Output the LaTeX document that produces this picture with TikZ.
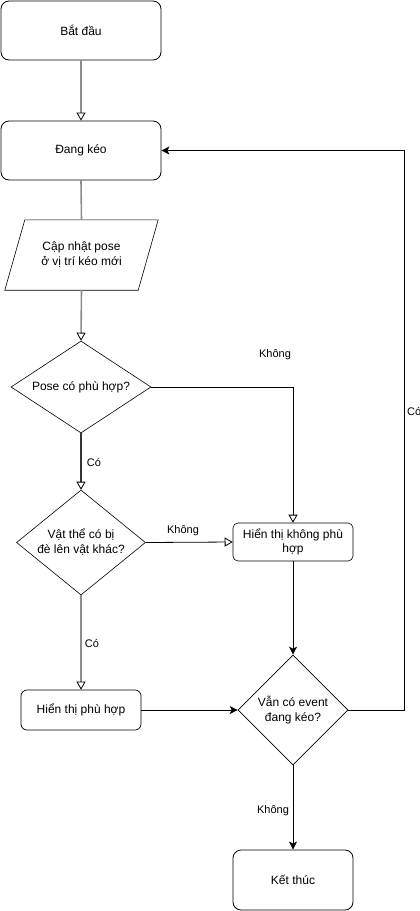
\documentclass[tikz,border=0pt]{standalone}
\usepackage{fontspec}
\setmainfont{Liberation Sans}
\usetikzlibrary{shapes.geometric,arrows.meta}
\begin{document}
\begin{tikzpicture}[x=1pt,y=-1pt,
  every node/.style={font=\fontsize{12}{14}\selectfont},
  boxnode/.style={draw=black,line width=0.8pt,rounded corners=8pt,align=center,inner sep=0pt},
  diam/.style={draw=black,line width=0.6pt,shape=diamond,inner sep=0pt},
  lbl/.style={font=\fontsize{11}{13}\selectfont,inner sep=0pt},
  grayline/.style={draw=black!45,line width=1.6pt},
  darkline/.style={draw=black!80,line width=1.4pt},
  thinline/.style={draw=black,line width=0.8pt},
  opentip/.style={-{Triangle[open,length=8pt,width=9pt,line width=0.8pt,color=black]}},
  filltip/.style={-{Stealth[length=8pt,width=8pt,inset=2pt]}}
]
\useasboundingbox (0,0) rectangle (420,911);
\node[boxnode,minimum width=160pt,minimum height=59pt] (start) at (81,30.5) {Bắt đầu};
\node[boxnode,minimum width=160pt,minimum height=59pt] (drag) at (81,150.5) {Đang kéo};
\node[align=center,inner sep=0pt,minimum width=153pt,minimum height=70pt,
  font=\fontsize{12}{15}\selectfont] (para) at (81.5,255) {Cập nhật pose\\ở vị trí kéo mới};
\draw[line width=0.6pt] ([xshift=20pt]para.north west) -- (para.north east)
  -- ([xshift=-20pt]para.south east) -- (para.south west) -- cycle;
\node[diam,minimum width=140pt,minimum height=92pt,label={center:Pose có phù hợp?}] (d1) at (81,387) {};
\node[diam,minimum width=129pt,minimum height=105pt,
  label={[align=center,font=\fontsize{12}{15}\selectfont]center:Vật thể có bị\\đè lên vật khác?}] (d2) at (81,542.5) {};
\node[boxnode,line width=0.6pt,rounded corners=5pt,minimum width=120pt,minimum height=38pt] (nf) at (293,542) {Hiển thị không phù\\hợp};
\node[boxnode,line width=0.7pt,rounded corners=6pt,minimum width=120pt,minimum height=40pt] (ok) at (81,710) {Hiển thị phù hợp};
\node[diam,minimum width=110pt,minimum height=110pt,
  label={[align=center,font=\fontsize{12}{15}\selectfont]center:Vẫn có event\\đang kéo?}] (d3) at (293,710) {};
\node[boxnode,minimum width=120pt,minimum height=60pt] (end) at (293,880) {Kết thúc};
\coordinate (loop) at (404,710);

\draw[grayline,opentip] (start.south) -- (drag.north);
\draw[grayline] (drag.south) -- (para.north);
\draw[grayline,opentip] (para.south) -- (d1.north);
\draw[thinline,opentip] (d1.east) -| (nf.north);
\node[lbl] (l1) at (275,355) {Không};
\draw[darkline,opentip] (d1.south) -- (d2.north);
\node[lbl] (l2) at (94,462) {Có};
\draw[thinline,opentip] (d2.east) -- (nf.west);
\node[lbl] (l3) at (183,531) {Không};
\draw[grayline,opentip] (d2.south) -- (ok.north);
\node[lbl] (l4) at (92,643) {Có};
\draw[thinline,filltip] (ok.east) -- (d3.west);
\draw[thinline,filltip] (nf.south) -- (d3.north);
\draw[thinline,filltip] (d3.east) -- (loop) |- (drag.east);
\node[lbl,anchor=west] (l5) at (407,411) {Có};
\draw[thinline,filltip] (d3.south) -- (end.north);
\node[lbl] (l6) at (273,811) {Không};
\end{tikzpicture}
\end{document}
